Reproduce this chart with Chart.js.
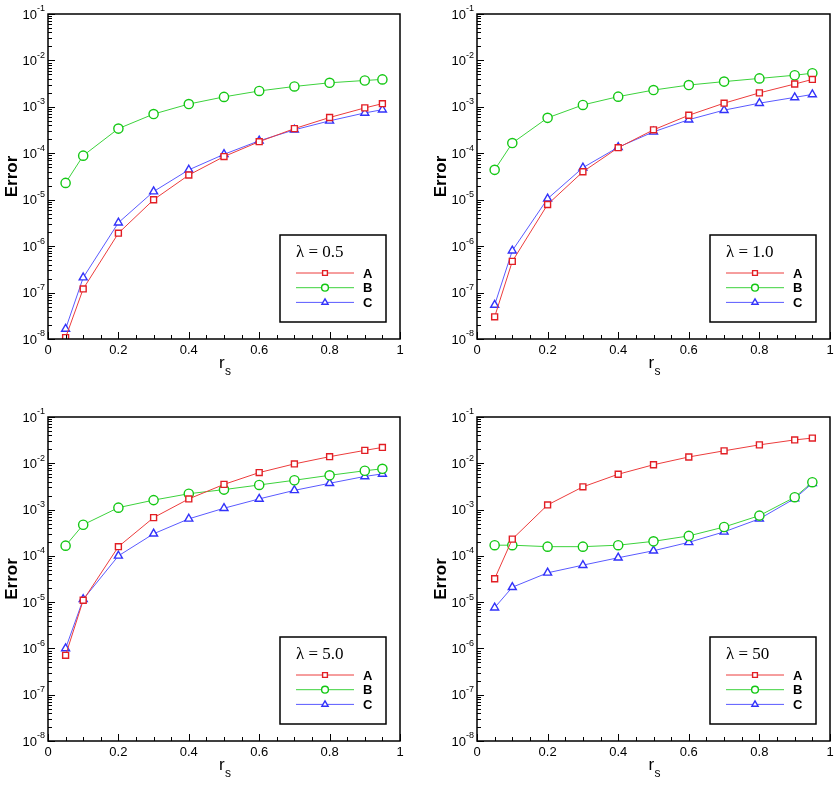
<!DOCTYPE html>
<html>
<head>
<meta charset="utf-8">
<script src="https://cdn.jsdelivr.net/npm/chart.js@4.4.1/dist/chart.umd.min.js"></script>
<style>
  body { margin: 0; background: #fff; }
  #wrap { position: relative; width: 840px; height: 786px; }
  .panel { position: absolute; width: 420px; height: 393px; }
</style>
</head>
<body>
<div id="wrap">
  <div class="panel" style="left:0;top:0"><canvas id="p1"></canvas></div>
  <div class="panel" style="left:420px;top:0"><canvas id="p2"></canvas></div>
  <div class="panel" style="left:0;top:393px"><canvas id="p3"></canvas></div>
  <div class="panel" style="left:420px;top:393px"><canvas id="p4"></canvas></div>
</div>
<script>
// x positions (r_s) shared by every curve
var rs = [0.05, 0.1, 0.2, 0.3, 0.4, 0.5, 0.6, 0.7, 0.8, 0.9, 0.95];

// lambda = 0.5
var a05 = [1.07e-8, 1.2e-7, 1.9e-6, 1.0e-5, 3.4e-5, 8.5e-5, 1.78e-4, 3.4e-4, 5.9e-4, 9.5e-4, 1.17e-3];
var b05 = [2.3e-5, 8.9e-5, 3.4e-4, 7.0e-4, 1.15e-3, 1.64e-3, 2.2e-3, 2.75e-3, 3.3e-3, 3.7e-3, 3.9e-3];
var c05 = [1.65e-8, 2.1e-7, 3.2e-6, 1.5e-5, 4.4e-5, 9.5e-5, 1.86e-4, 3.2e-4, 5.0e-4, 7.4e-4, 8.7e-4];

// lambda = 1.0
var a10 = [3.0e-8, 4.7e-7, 7.9e-6, 4.0e-5, 1.32e-4, 3.2e-4, 6.6e-4, 1.2e-3, 2.0e-3, 3.1e-3, 3.9e-3];
var b10 = [4.4e-5, 1.66e-4, 5.8e-4, 1.1e-3, 1.66e-3, 2.3e-3, 2.95e-3, 3.5e-3, 4.1e-3, 4.8e-3, 5.3e-3];
var c10 = [5.4e-8, 8.0e-7, 1.05e-5, 4.9e-5, 1.35e-4, 2.9e-4, 5.3e-4, 8.5e-4, 1.2e-3, 1.6e-3, 1.85e-3];

// lambda = 5.0
var a50 = [7.1e-7, 1.1e-5, 1.58e-4, 6.7e-4, 1.7e-3, 3.5e-3, 6.3e-3, 9.7e-3, 1.39e-2, 1.9e-2, 2.2e-2];
var b50 = [1.66e-4, 4.7e-4, 1.1e-3, 1.6e-3, 2.2e-3, 2.7e-3, 3.4e-3, 4.3e-3, 5.5e-3, 6.9e-3, 7.6e-3];
var c50 = [1.0e-6, 1.15e-5, 1.0e-4, 3.0e-4, 6.3e-4, 1.07e-3, 1.7e-3, 2.6e-3, 3.7e-3, 5.2e-3, 5.9e-3];

// lambda = 50
var a500 = [3.2e-5, 2.3e-4, 1.26e-3, 3.1e-3, 5.8e-3, 9.3e-3, 1.37e-2, 1.86e-2, 2.5e-2, 3.2e-2, 3.5e-2];
var b500 = [1.7e-4, 1.7e-4, 1.58e-4, 1.58e-4, 1.7e-4, 2.06e-4, 2.7e-4, 4.2e-4, 7.4e-4, 1.85e-3, 3.9e-3];
var c500 = [7.6e-6, 2.1e-5, 4.3e-5, 6.3e-5, 9.1e-5, 1.29e-4, 1.96e-4, 3.3e-4, 6.3e-4, 1.73e-3, 3.7e-3];

var seriesNames = ['A', 'B', 'C'];
var lambdaLabels = ['\u03bb = 0.5', '\u03bb = 1.0', '\u03bb = 5.0', '\u03bb = 50'];

// tick labels
var xTicks = [0, 0.2, 0.4, 0.6, 0.8, 1];
var yExp = [-8, -7, -6, -5, -4, -3, -2, -1];

var colors = ['rgb(226,30,36)', 'rgb(20,200,20)', 'rgb(50,50,250)'];
var lineColors = ['rgb(236,60,60)', 'rgb(60,210,60)', 'rgb(90,90,255)'];
var styles = ['rect', 'circle', 'triangle'];
var radii = [4.2, 4.6, 4.6];
var legendRadii = [3.4, 3.4, 3.6];

function toPoints(arr) {
  return rs.map(function (x, i) { return { x: x, y: arr[i] }; });
}

// draws frame, inward ticks, axis labels and the in-plot legend
var decorPlugin = {
  id: 'decor',
  afterDraw: function (chart) {
    var ctx = chart.ctx;
    var ca = chart.chartArea;
    var xs = chart.scales.x, ys = chart.scales.y;
    ctx.save();
    ctx.strokeStyle = '#000';
    ctx.fillStyle = '#000';

    // ticks on left axis (log)
    ctx.lineWidth = 1;
    ctx.beginPath();
    for (var e = -8; e <= -1; e++) {
      var py = Math.round(ys.getPixelForValue(Math.pow(10, e))) + 0.5;
      ctx.moveTo(ca.left, py); ctx.lineTo(ca.left + 7, py);
      if (e < -1) {
        for (var k = 2; k <= 9; k++) {
          var my = Math.round(ys.getPixelForValue(k * Math.pow(10, e))) + 0.5;
          ctx.moveTo(ca.left, my); ctx.lineTo(ca.left + 4, my);
        }
      }
    }
    // ticks on bottom axis
    for (var t = 0; t <= 20; t++) {
      var v = t * 0.05;
      var px = Math.round(xs.getPixelForValue(v)) + 0.5;
      var len = (t % 4 === 0) ? 7 : 4;
      ctx.moveTo(px, ca.bottom); ctx.lineTo(px, ca.bottom - len);
    }
    ctx.stroke();

    // frame
    ctx.lineWidth = 1.5;
    ctx.strokeRect(ca.left, ca.top, ca.right - ca.left, ca.bottom - ca.top);

    // y labels 10^n
    ctx.textBaseline = 'middle';
    yExp.forEach(function (e) {
      var py = ys.getPixelForValue(Math.pow(10, e));
      ctx.font = '9px "Liberation Sans", Arial, sans-serif';
      var es = String(e);
      var ew = ctx.measureText(es).width;
      ctx.textAlign = 'left';
      ctx.fillText(es, ca.left - 3 - ew, py - 5);
      ctx.font = '13px "Liberation Sans", Arial, sans-serif';
      ctx.textAlign = 'right';
      ctx.fillText('10', ca.left - 3 - ew, py + 1);
    });

    // x labels
    ctx.font = '13px "Liberation Sans", Arial, sans-serif';
    ctx.textAlign = 'center';
    ctx.textBaseline = 'top';
    xTicks.forEach(function (v) {
      ctx.fillText(String(v), xs.getPixelForValue(v), ca.bottom + 5);
    });

    // x title r_s
    var cx = (ca.left + ca.right) / 2;
    ctx.textBaseline = 'alphabetic';
    ctx.textAlign = 'left';
    ctx.font = '17px "Liberation Sans", Arial, sans-serif';
    ctx.fillText('r', cx - 5, ca.bottom + 29);
    ctx.font = '12px "Liberation Sans", Arial, sans-serif';
    ctx.fillText('s', cx + 1, ca.bottom + 36);

    // y title
    ctx.save();
    ctx.translate(ca.left - 36, (ca.top + ca.bottom) / 2);
    ctx.rotate(-Math.PI / 2);
    ctx.textAlign = 'center';
    ctx.textBaseline = 'middle';
    ctx.font = 'bold 17px "Liberation Sans", Arial, sans-serif';
    ctx.fillText('Error', 0, 0);
    ctx.restore();

    // legend box
    var bw = 106, bh = 87;
    var bx = ca.right - 14 - bw, by = ca.bottom - 17 - bh;
    ctx.fillStyle = '#fff';
    ctx.fillRect(bx, by, bw, bh);
    ctx.lineWidth = 1.5;
    ctx.strokeStyle = '#000';
    ctx.strokeRect(bx, by, bw, bh);
    ctx.fillStyle = '#000';
    ctx.font = '17px "Liberation Serif", "Times New Roman", serif';
    ctx.textAlign = 'left';
    ctx.textBaseline = 'alphabetic';
    ctx.fillText(chart.options.plugins.decor.title, bx + 16, by + 22);
    chart.data.datasets.forEach(function (ds, i) {
      var ly = by + 38 + i * 14.7;
      ctx.strokeStyle = ds.borderColor;
      ctx.lineWidth = 1;
      ctx.beginPath();
      ctx.moveTo(bx + 16, ly); ctx.lineTo(bx + 74, ly);
      ctx.stroke();
      ctx.fillStyle = '#fff';
      ctx.strokeStyle = ds.pointBorderColor;
      ctx.lineWidth = 1.4;
      Chart.helpers.drawPoint(ctx, { pointStyle: ds.pointStyle, radius: legendRadii[i], borderWidth: 1.4 }, bx + 45, ly);
      ctx.fillStyle = '#000';
      ctx.font = 'bold 13px "Liberation Sans", Arial, sans-serif';
      ctx.textBaseline = 'middle';
      ctx.fillText(ds.label, bx + 83, ly + 1);
      ctx.textBaseline = 'alphabetic';
    });
    ctx.restore();
  }
};

function BuildPanel(id, title, seriesList, area) {
  var ctx = document.getElementById(id).getContext('2d');
  var datasets = seriesList.map(function (arr, i) {
    return {
      label: seriesNames[i],
      data: toPoints(arr),
      borderColor: lineColors[i],
      borderWidth: 1,
      pointBorderColor: colors[i],
      pointBackgroundColor: '#fff',
      pointBorderWidth: 1.4,
      pointStyle: styles[i],
      pointRadius: radii[i],
      pointHoverRadius: radii[i],
      tension: 0
    };
  });
  return new Chart(ctx, {
    type: 'line',
    data: { datasets: datasets },
    options: {
      responsive: false,
      animation: false,
      events: [],
      layout: { padding: { left: 0, top: area.top, right: 420 - area.right, bottom: 0 } },
      scales: {
        x: {
          type: 'linear', min: 0, max: 1,
          grid: { display: false }, border: { display: false },
          ticks: { display: false },
          afterFit: function (s) { s.height = 393 - area.bottom; }
        },
        y: {
          type: 'logarithmic', min: 1e-8, max: 1e-1,
          grid: { display: false }, border: { display: false },
          ticks: { display: false },
          afterFit: function (s) { s.width = area.left; }
        }
      },
      plugins: {
        legend: { display: false },
        tooltip: { enabled: false },
        decor: { title: title }
      }
    },
    plugins: [decorPlugin]
  });
}

function setSize(id) {
  var c = document.getElementById(id);
  c.width = 420; c.height = 393;
  c.style.width = '420px'; c.style.height = '393px';
}
['p1', 'p2', 'p3', 'p4'].forEach(setSize);

BuildPanel('p1', lambdaLabels[0], [a05, b05, c05], { left: 48, right: 400, top: 14, bottom: 339 });
BuildPanel('p2', lambdaLabels[1], [a10, b10, c10], { left: 57, right: 410, top: 14, bottom: 339 });
BuildPanel('p3', lambdaLabels[2], [a50, b50, c50], { left: 48, right: 400, top: 24, bottom: 348 });
BuildPanel('p4', lambdaLabels[3], [a500, b500, c500], { left: 57, right: 410, top: 24, bottom: 348 });
</script>
</body>
</html>
